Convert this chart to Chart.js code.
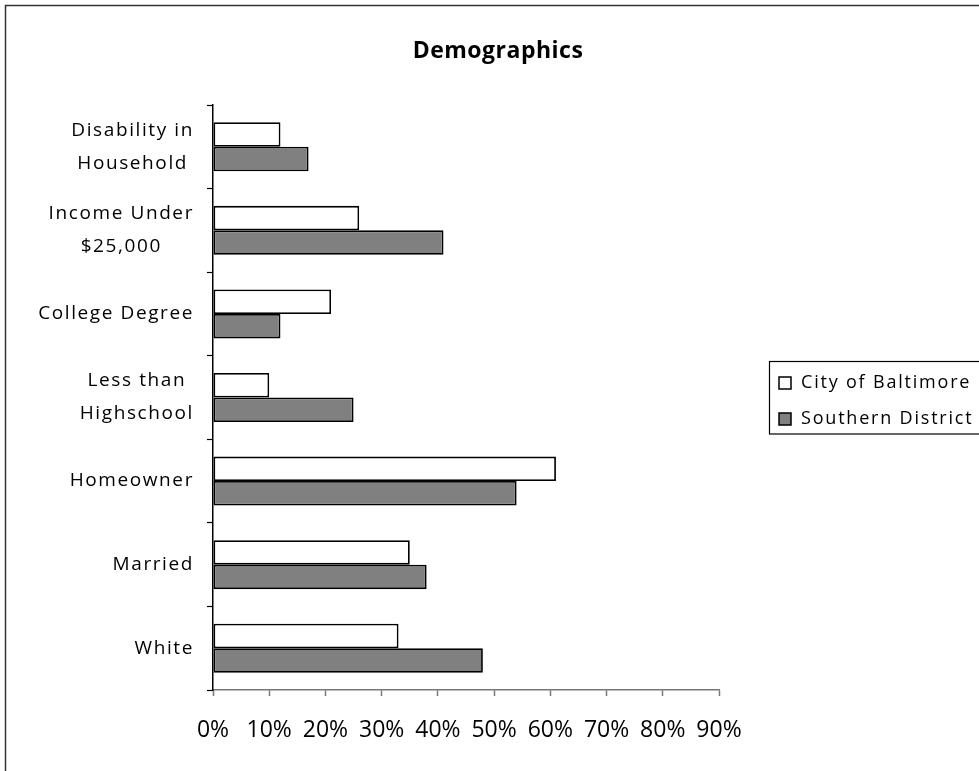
<!DOCTYPE html>
<html>
<head>
<meta charset="utf-8">
<title>Demographics</title>
<script src="https://cdn.jsdelivr.net/npm/chart.js@4/dist/chart.umd.min.js"></script>
<style>
  html, body { margin: 0; padding: 0; background: #fff; }
  canvas { display: block; }
</style>
</head>
<body>
<canvas id="myChart" width="979" height="771"></canvas>
<script>
// Datos del gráfico
const chartTitle = 'Demographics';
const categories = [
    ['Disability in', 'Household'],
    ['Income Under', '$25,000'],
    ['College Degree'],
    ['Less than', 'Highschool'],
    ['Homeowner'],
    ['Married'],
    ['White']
];
const seriesNames = ['City of Baltimore', 'Southern District'];
const cityValues = [12, 26, 21, 10, 61, 35, 33];
const southernValues = [17, 41, 12, 25, 54, 38, 48];
const xTickLabels = ['0%', '10%', '20%', '30%', '40%', '50%', '60%', '70%', '80%', '90%'];

const seriesFill = ['#ffffff', '#808080'];

// Plugin: fondo, marco, título, etiquetas del eje Y y leyenda
const decorPlugin = {
    id: 'decor',
    beforeDraw(chart) {
        const ctx = chart.ctx;
        ctx.save();
        ctx.fillStyle = '#fff';
        ctx.fillRect(0, 0, chart.width, chart.height);
        ctx.strokeStyle = '#333';
        ctx.lineWidth = 1.5;
        ctx.strokeRect(5.5, 5.5, 1200, 1200);
        ctx.restore();
    },
    afterDraw(chart) {
        const ctx = chart.ctx;
        ctx.save();

        // título
        ctx.fillStyle = '#000';
        ctx.font = 'bold 23px "Open Sans"';
        ctx.letterSpacing = '0.5px';
        ctx.textAlign = 'center';
        ctx.textBaseline = 'alphabetic';
        ctx.fillText(chartTitle, 498, 58);

        // etiquetas del eje Y (bloque alineado a la derecha, líneas centradas)
        const yScale = chart.scales.y;
        ctx.font = '19px "Open Sans"';
        ctx.letterSpacing = '1.6px';
        ctx.textBaseline = 'middle';
        const lineH = 33;
        categories.forEach((lines, i) => {
            const yc = yScale.getPixelForTick(i);
            const widest = Math.max(...lines.map(l => ctx.measureText(l).width));
            const xc = 194 - widest / 2;
            lines.forEach((line, j) => {
                ctx.fillText(line, xc, yc + (j - (lines.length - 1) / 2) * lineH);
            });
        });

        // leyenda
        ctx.letterSpacing = '1.8px';
        ctx.font = '18px "Open Sans"';
        ctx.textAlign = 'left';
        ctx.strokeStyle = '#000';
        ctx.lineWidth = 1.2;
        ctx.strokeRect(769.5, 361.5, 300, 72.5);
        chart.data.datasets.forEach((ds, i) => {
            const y = 383 + i * 36;
            ctx.fillStyle = ds.backgroundColor;
            ctx.fillRect(779, y - 6, 12, 12);
            ctx.strokeStyle = '#000';
            ctx.lineWidth = 1.5;
            ctx.strokeRect(779, y - 6, 12, 12);
            ctx.fillStyle = '#000';
            ctx.fillText(ds.label, 801, y);
        });

        ctx.restore();
    }
};

const ctx = document.getElementById('myChart').getContext('2d');
const myChartInstance = new Chart(ctx, {
    type: 'bar',
    data: {
        labels: categories,
        datasets: [
            {
                label: seriesNames[0],
                data: cityValues,
                backgroundColor: seriesFill[0],
                borderColor: '#000',
                borderWidth: 1.8,
                borderSkipped: false,
                categoryPercentage: 0.586,
                barPercentage: 1
            },
            {
                label: seriesNames[1],
                data: southernValues,
                backgroundColor: seriesFill[1],
                borderColor: '#000',
                borderWidth: 1.8,
                borderSkipped: false,
                categoryPercentage: 0.586,
                barPercentage: 1
            }
        ]
    },
    options: {
        indexAxis: 'y',
        responsive: false,
        animation: false,
        layout: {
            padding: { top: 105, right: 260, bottom: 0, left: 0 }
        },
        plugins: {
            legend: { display: false },
            title: { display: false },
            tooltip: { enabled: false }
        },
        scales: {
            x: {
                min: 0,
                max: 90,
                afterFit: s => { s.height = 81; },
                ticks: {
                    stepSize: 10,
                    color: '#000',
                    padding: 21,
                    font: { family: '"Open Sans"', size: 23 },
                    maxRotation: 0,
                    autoSkip: false,
                    callback: (v, i) => xTickLabels[i]
                },
                grid: {
                    drawOnChartArea: false,
                    drawTicks: true,
                    tickLength: 6,
                    tickColor: '#777',
                    tickWidth: 1.5
                },
                border: { color: '#777', width: 1.5 }
            },
            y: {
                afterFit: s => { s.width = 213; },
                ticks: { display: false },
                grid: {
                    offset: true,
                    drawOnChartArea: false,
                    drawTicks: true,
                    tickLength: 6,
                    tickColor: '#000',
                    tickWidth: 1.2
                },
                border: { color: '#000', width: 1.5 }
            }
        }
    },
    plugins: [decorPlugin]
});
</script>
</body>
</html>
